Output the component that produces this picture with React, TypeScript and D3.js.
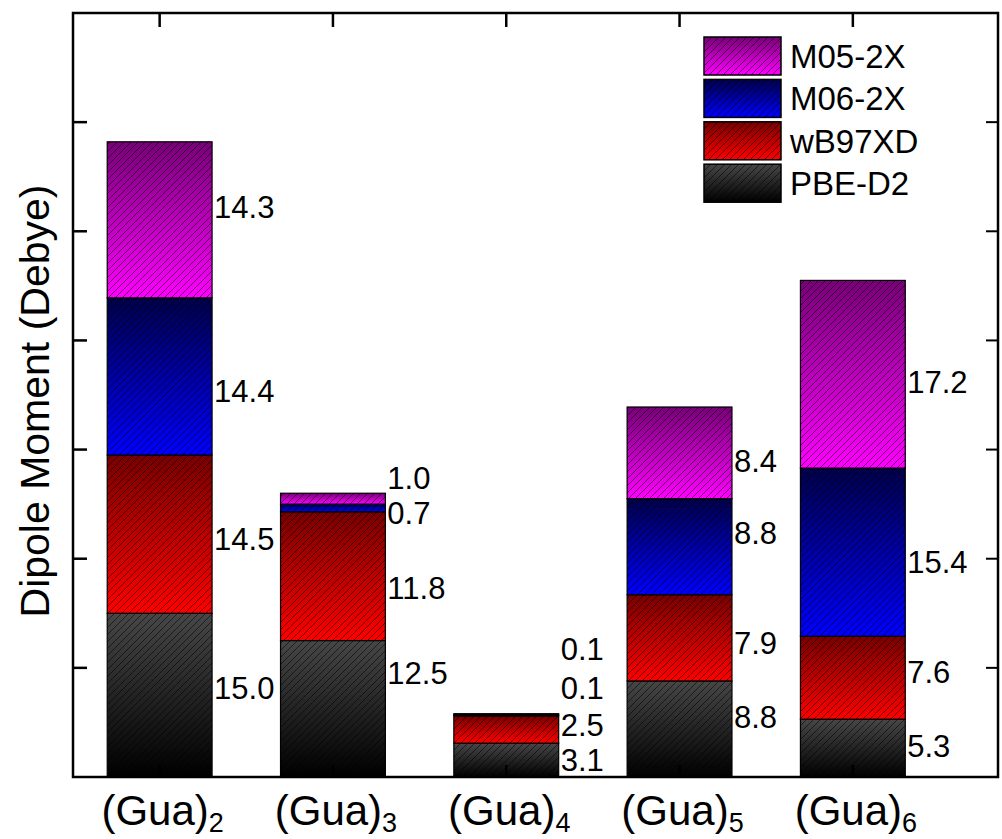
import React from "react";
import * as d3 from "d3";

// Dipole moments (Debye) of guanine clusters, stacked by functional
const clusters = ["2", "3", "4", "5", "6"];
const functionals = ["PBE-D2", "wB97XD", "M06-2X", "M05-2X"];
const pbeD2 = [15.0, 12.5, 3.1, 8.8, 5.3];
const wb97xd = [14.5, 11.8, 2.5, 7.9, 7.6];
const m062x = [14.4, 0.7, 0.1, 8.8, 15.4];
const m052x = [14.3, 1.0, 0.1, 8.4, 17.2];

// Where each value label sits along the y axis (Debye)
const pbeLabelAt = [8.2, 9.5, 1.6, 5.5, 2.9];
const wbLabelAt = [21.8, 17.3, 4.8, 12.3, 9.6];
const m06LabelAt = [35.4, 24.2, 8.2, 22.4, 19.7];
const m05LabelAt = [52.2, 27.4, 11.7, 29.0, 36.2];

const yTicks = [10, 20, 30, 40, 50, 60];

const W = 1002;
const H = 839;
const left = 73;
const right = 998;
const top = 13;
const bottom = 777;
const font = "'Liberation Sans', Arial, Helvetica, sans-serif";

// gradient (top colour, bottom colour) per functional
const gradients: Record<string, [string, string]> = {
  "PBE-D2": ["#474747", "#000000"],
  wB97XD: ["#780000", "#ff0000"],
  "M06-2X": ["#00004a", "#0000ff"],
  "M05-2X": ["#780078", "#ff00ff"],
};

const idOf = (name: string) => "g-" + name.replace(/[^A-Za-z0-9]/g, "");

export default function App() {
  const rows = clusters.map((c, i) => ({
    cluster: c,
    "PBE-D2": pbeD2[i],
    wB97XD: wb97xd[i],
    "M06-2X": m062x[i],
    "M05-2X": m052x[i],
  }));
  const labelAt: Record<string, number[]> = {
    "PBE-D2": pbeLabelAt,
    wB97XD: wbLabelAt,
    "M06-2X": m06LabelAt,
    "M05-2X": m05LabelAt,
  };

  const stacked = d3.stack<any>().keys(functionals)(rows);

  const step = 173.3;
  const x = d3
    .scaleBand<string>()
    .domain(clusters)
    .range([left, left + step * clusters.length])
    .paddingInner(0.395)
    .paddingOuter(0.395 / 2);
  const y = d3.scaleLinear().domain([0, 70]).range([bottom, top]);

  const bw = x.bandwidth();
  const legendItems = [...functionals].reverse();

  return (
    <svg
      width={W}
      height={H}
      style={{ position: "absolute", left: 0, top: 0, background: "#fff" }}
      fontFamily={font}
    >
      <defs>
        {functionals.map((f) => (
          <linearGradient key={f} id={idOf(f)} x1="0" y1="0" x2="0" y2="1">
            <stop offset="0" stopColor={gradients[f][0]} />
            <stop offset="1" stopColor={gradients[f][1]} />
          </linearGradient>
        ))}
        <pattern id="hatch" patternUnits="userSpaceOnUse" width="7" height="7">
          <path
            d="M-1,1 L1,-1 M0,7 L7,0 M6,8 L8,6"
            stroke="#000"
            strokeOpacity="0.7"
            strokeWidth="0.8"
          />
        </pattern>
      </defs>

      {/* stacked bars */}
      {stacked.map((layer) => (
        <g key={layer.key}>
          {layer.map((d, i) => {
            const x0 = x(clusters[i])!;
            const y0 = y(d[1]);
            const h = y(d[0]) - y(d[1]);
            return (
              <g key={i}>
                <rect x={x0} y={y0} width={bw} height={h} fill={`url(#${idOf(layer.key)})`} />
                <rect x={x0} y={y0} width={bw} height={h} fill="url(#hatch)" />
                <rect
                  x={x0}
                  y={y0}
                  width={bw}
                  height={h}
                  fill="none"
                  stroke="#000"
                  strokeWidth={1.2}
                />
              </g>
            );
          })}
        </g>
      ))}

      {/* value labels */}
      {stacked.map((layer) =>
        layer.map((d, i) => (
          <text
            key={layer.key + i}
            x={x(clusters[i])! + bw + 2}
            y={y(labelAt[layer.key][i])}
            dy="0.36em"
            fontSize={31}
            fill="#000"
          >
            {(d[1] - d[0]).toFixed(1)}
          </text>
        ))
      )}

      {/* frame */}
      <rect
        x={left}
        y={top}
        width={right - left}
        height={bottom - top}
        fill="none"
        stroke="#000"
        strokeWidth={2.5}
      />

      {/* y ticks, left and right, pointing inward */}
      {yTicks.map((t) => (
        <g key={t}>
          <line x1={left} x2={left + 14} y1={y(t)} y2={y(t)} stroke="#000" strokeWidth={2.5} />
          <line x1={right} x2={right - 12} y1={y(t)} y2={y(t)} stroke="#000" strokeWidth={2} />
        </g>
      ))}

      {/* x ticks, top and bottom, pointing inward */}
      {clusters.map((c) => {
        const cx = x(c)! + bw / 2;
        return (
          <g key={c}>
            <line x1={cx} x2={cx} y1={top} y2={top + 14} stroke="#000" strokeWidth={2.5} />
            <line x1={cx} x2={cx} y1={bottom} y2={bottom - 12} stroke="#000" strokeWidth={2.5} />
          </g>
        );
      })}

      {/* category labels */}
      {clusters.map((c) => (
        <text
          key={c}
          x={x(c)! + bw / 2 + 3}
          y={825}
          textAnchor="middle"
          fontSize={42}
          fill="#000"
        >
          (Gua)
          <tspan fontSize={27} dy={7}>
            {c}
          </tspan>
        </text>
      ))}

      {/* y axis title */}
      <text
        transform={`translate(49,${(top + bottom) / 2 + 6}) rotate(-90)`}
        textAnchor="middle"
        fontSize={41}
        fill="#000"
      >
        Dipole Moment (Debye)
      </text>

      {/* legend */}
      {legendItems.map((f, i) => {
        const ly = 37 + i * 42.4;
        return (
          <g key={f}>
            <rect x={704} y={ly} width={77} height={38} fill={`url(#${idOf(f)})`} />
            <rect x={704} y={ly} width={77} height={38} fill="url(#hatch)" />
            <rect x={704} y={ly} width={77} height={38} fill="none" stroke="#000" strokeWidth={1.5} />
            <text x={790} y={ly + 19} dy="0.36em" fontSize={33} fill="#000">
              {f}
            </text>
          </g>
        );
      })}
    </svg>
  );
}
